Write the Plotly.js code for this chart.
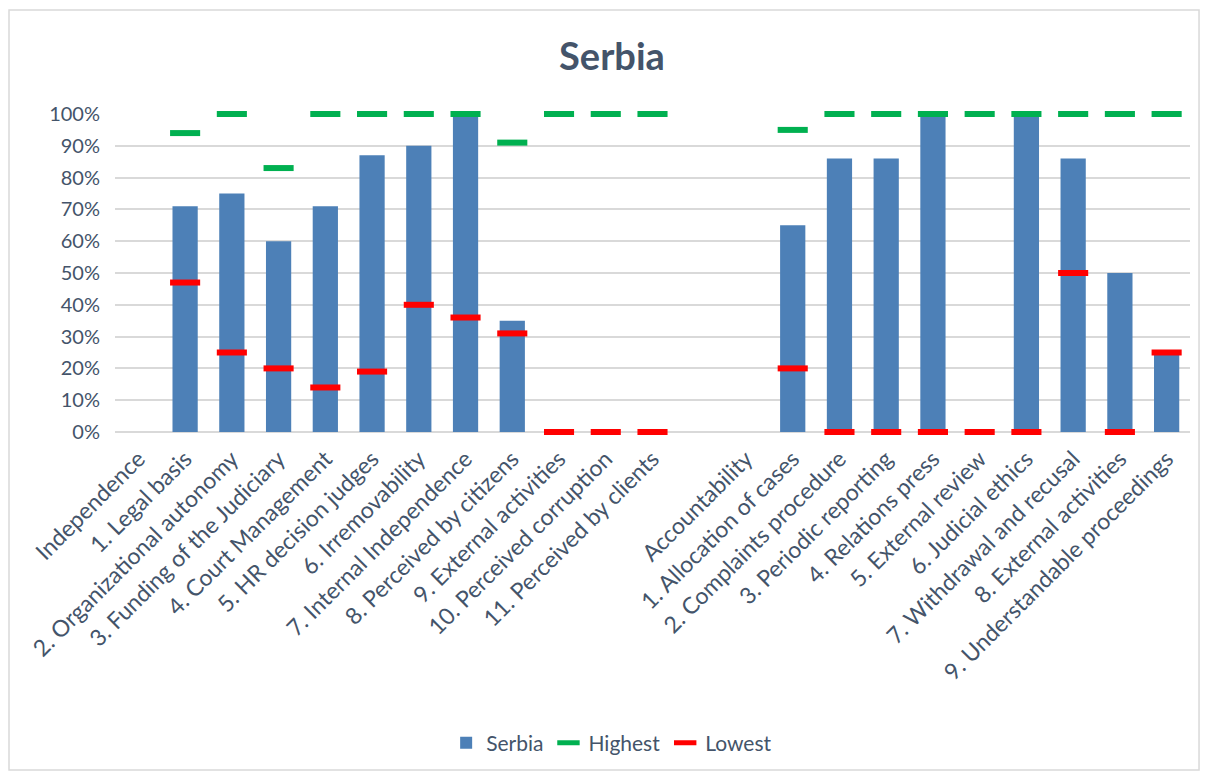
<!DOCTYPE html>
<html>
<head>
<meta charset="utf-8">
<script src="https://cdn.plot.ly/plotly-3.0.1.min.js"></script>
<style>
  body { margin: 0; background: #fff; }
  #chart { width: 1207px; height: 776px; }
</style>
</head>
<body>
<div id="chart"></div>
<script>
// categories (blank one is the gap between the two groups)
var cats = ['Independence', '1. Legal basis', '2. Organizational autonomy', '3. Funding of the Judiciary',
    '4. Court Management', '5. HR decision judges', '6. Irremovability', '7. Internal Independence',
    '8. Perceived by citizens', '9. External activities', '10. Perceived corruption', '11. Perceived by clients',
    ' ', 'Accountability', '1. Allocation of cases', '2. Complaints procedure', '3. Periodic reporting',
    '4. Relations press', '5. External review', '6. Judicial ethics', '7. Withdrawal and recusal',
    '8. External activities', '9. Understandable proceedings'];

var serbia  = [null, 71, 75, 60, 71, 87, 90, 100, 35, 0, 0, 0,
               null, null, 65, 86, 86, 100, 0, 100, 86, 50, 25];
var highest = [null, 94, 100, 83, 100, 100, 100, 100, 91, 100, 100, 100,
               null, null, 95, 100, 100, 100, 100, 100, 100, 100, 100];
var lowest  = [null, 47, 25, 20, 14, 19, 40, 36, 31, 0, 0, 0,
               null, null, 20, 0, 0, 0, 0, 0, 50, 0, 25];

var txt = '#44546a';
var fnt = 'Lato, "Open Sans", sans-serif';

var data = [{
    type: 'bar',
    name: 'Serbia',
    x: cats, y: serbia,
    marker: {color: '#4d80b7'},
    hoverinfo: 'x+y'
}, {
    type: 'scatter',
    mode: 'markers',
    name: 'Highest',
    x: cats, y: highest,
    cliponaxis: false,
    marker: {symbol: 'line-ew', size: 21.5, line: {width: 6, color: '#00b050'}}
}, {
    type: 'scatter',
    mode: 'markers',
    name: 'Lowest',
    x: cats, y: lowest,
    cliponaxis: false,
    marker: {symbol: 'line-ew', size: 21.5, line: {width: 6, color: '#ff0000'}}
}];

var layout = {
    width: 1207, height: 776,
    margin: {l: 115, r: 17, t: 114, b: 344},
    paper_bgcolor: '#fff', plot_bgcolor: '#fff',
    font: {family: fnt, color: txt, size: 20},
    title: {text: '<b>Serbia</b>', font: {size: 38, color: txt, family: fnt},
        x: 0.507, xanchor: 'center', y: 0.927, yanchor: 'middle'},
    bargap: 0.46,
    showlegend: true,
    legend: {orientation: 'h', x: 0.462, xanchor: 'center', y: -0.978, yanchor: 'middle',
        font: {size: 21, color: txt}, traceorder: 'normal'},
    xaxis: {type: 'category', categoryorder: 'array', categoryarray: cats,
        range: [-0.5, cats.length - 0.5], autorange: false,
        tickangle: -45, showgrid: false, ticks: '', showline: false,
        tickfont: {size: 23, color: txt}, ticklabelstandoff: 8},
    yaxis: {range: [0, 100], dtick: 10, ticksuffix: '%', showgrid: true,
        gridcolor: '#d9d9d9', gridwidth: 1.5, zeroline: true, zerolinecolor: '#d9d9d9',
        zerolinewidth: 1.5, ticks: '', tickfont: {size: 20, color: txt}, ticklabelstandoff: 14},
    shapes: [{type: 'rect', xref: 'paper', yref: 'paper',
        x0: -0.0986, x1: 1.0084, y0: -1.063, y1: 1.327,
        line: {color: '#d9d9d9', width: 1.5}, fillcolor: 'rgba(0,0,0,0)'}]
};

Plotly.newPlot('chart', data, layout, {displayModeBar: false});
</script>
</body>
</html>
